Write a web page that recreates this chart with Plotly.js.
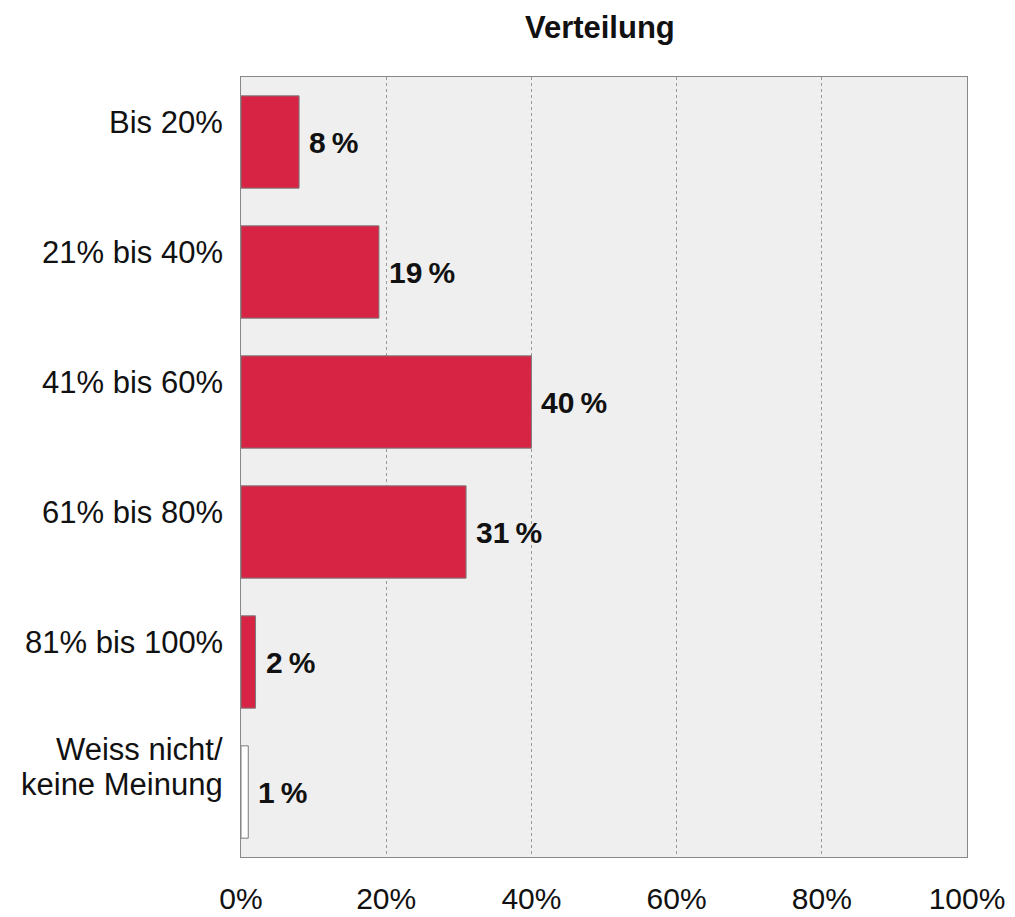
<!DOCTYPE html>
<html><head><meta charset="utf-8">
<script src="https://cdn.plot.ly/plotly-3.0.1.min.js"></script>
<style>body{margin:0;background:#fff}#c{width:1015px;height:917px}</style>
</head><body><div id="c"></div>
<script>
const categories = ["Bis 20%", "21% bis 40%", "41% bis 60%", "61% bis 80%", "81% bis 100%", "Weiss nicht/<br>keine Meinung"];
const values = [8, 19, 40, 31, 2, 1];
const colors = ["#d72444", "#d72444", "#d72444", "#d72444", "#d72444", "#ffffff"];
const xTickVals = [0, 20, 40, 60, 80, 100];
const xTickText = ["0%", "20%", "40%", "60%", "80%", "100%"];

const FONT = "Liberation Sans, Arial, sans-serif";

const trace = {
  type: "bar", orientation: "h",
  x: values, y: categories,
  marker: {color: colors, line: {color: "#7a7a7a", width: 1}},
  width: 0.71, hoverinfo: "none"
};

const annotations = [];
categories.forEach((c, i) => {
  annotations.push({x: values[i], y: c, xref: "x", yref: "y", text: values[i] + "\u2009%",
    showarrow: false, xanchor: "left", xshift: 8,
    font: {family: FONT, size: 30, color: "#111", weight: "bold"}});
  const lines = c.split("<br>");
  const n = lines.length;
  const base = n === 1 ? 20 : 25;
  lines.forEach((ln, k) => {
    annotations.push({x: 0, y: c, xref: "paper", yref: "y", text: ln,
      showarrow: false, xanchor: "right", xshift: -16, yshift: base + ((n - 1) / 2 - k) * 35,
      font: {family: FONT, size: 31, color: "#111"}});
  });
});

const layout = {
  width: 1015, height: 917,
  margin: {l: 241, r: 48, t: 77, b: 60},
  paper_bgcolor: "#ffffff", plot_bgcolor: "#efefef",
  showlegend: false,
  title: {text: "<b>Verteilung</b>", x: 0.591, xanchor: "center", y: 0.97, yanchor: "middle",
    font: {family: FONT, size: 31, color: "#111"}},
  xaxis: {range: [0, 100], tickvals: xTickVals, ticktext: xTickText, showgrid: true,
    gridcolor: "#999", griddash: "dot", gridwidth: 1, zeroline: false,
    showline: true, linecolor: "#888", mirror: true, ticks: "", ticklabelstandoff: 15,
    tickfont: {family: FONT, size: 30, color: "#111"}, fixedrange: true},
  yaxis: {autorange: "reversed", showticklabels: false, showgrid: false, zeroline: false,
    showline: true, linecolor: "#888", mirror: true, ticks: "", fixedrange: true},
  annotations: annotations,
  bargap: 0.29
};
Plotly.newPlot("c", [trace], layout, {staticPlot: true});
</script></body></html>
